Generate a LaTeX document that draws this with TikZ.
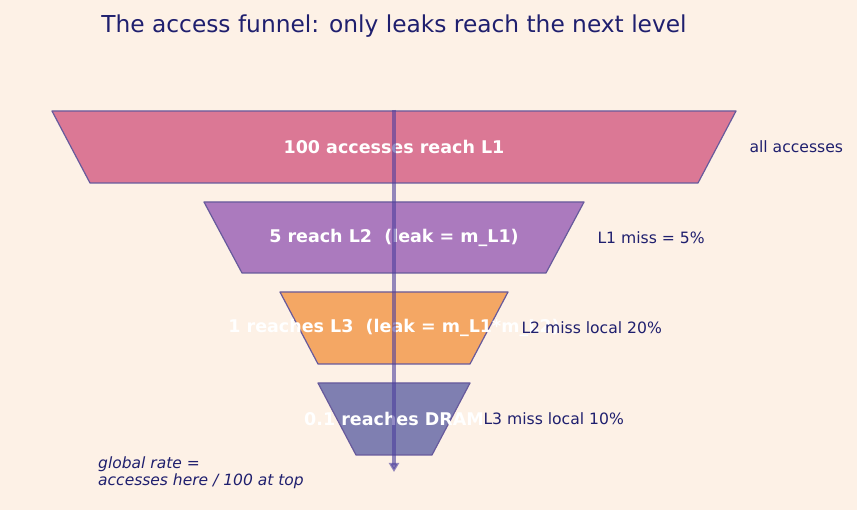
\documentclass[tikz,border=0pt]{standalone}
\usepackage{fontspec}
\setmainfont{DejaVu Sans}
\usetikzlibrary{arrows.meta}
\definecolor{bgcream}{HTML}{FDF1E6}
\definecolor{inkblue}{HTML}{1F1F6E}
\definecolor{edgepurp}{HTML}{675A9C}
\definecolor{lvlone}{HTML}{DB7895}
\definecolor{lvltwo}{HTML}{AB7ABE}
\definecolor{lvlthree}{HTML}{F4A764}
\definecolor{lvlfour}{HTML}{7F7FB1}
\definecolor{flowline}{HTML}{4C3F9E}
\tikzset{
  stage/.style={draw=edgepurp,line width=1.2pt,line join=round},
  stagetext/.style={text=white,font=\fontsize{17.5}{20}\selectfont\bfseries},
  misslabel/.style={anchor=west,text=inkblue,font=\fontsize{15.6}{18}\selectfont}
}
\begin{document}
\begin{tikzpicture}[x=1pt,y=-1pt]
  \fill[bgcream] (0,0) rectangle (857,510);
  \useasboundingbox (0,0) rectangle (857,510);
  \node[text=inkblue,font=\fontsize{23.3}{27}\selectfont] (title) at (394,26)
    {The access funnel: only leaks reach the next level};
  % the four levels, top to bottom
  \draw[stage,fill=lvlone] (52,111) -- (736,111) -- (698,183) -- (90,183) -- cycle;
  \draw[stage,fill=lvltwo] (204,202) -- (584,202) -- (546,273) -- (242,273) -- cycle;
  \draw[stage,fill=lvlthree] (280,292) -- (508,292) -- (470,364) -- (318,364) -- cycle;
  \draw[stage,fill=lvlfour] (318,383) -- (470,383) -- (432,455) -- (356,455) -- cycle;
  \node[stagetext] (s1) at (394,147) {100 accesses reach L1};
  \node[stagetext] (s2) at (394,238) {5 reach L2\ \ (leak = m\_L1)};
  \node[stagetext] (s3) at (394,328) {1 reaches L3\ \ (leak = m\_L1*m\_L2)};
  \node[stagetext] (s4) at (394,419) {0.1 reaches DRAM};
  \node[misslabel] (m1) at (746,147) {all accesses};
  \node[misslabel] (m2) at (594,238) {L1 miss = 5\%};
  \node[misslabel] (m3) at (518,328) {L2 miss local 20\%};
  \node[misslabel] (m4) at (480,419) {L3 miss local 10\%};
  \node[anchor=north west,align=left,text=inkblue,inner sep=0pt,
    font=\fontsize{15.5}{17}\selectfont\itshape] (note) at (98,457)
    {global rate =\\accesses here / 100 at top};
  % flow through the funnel
  \coordinate (top) at (394,110);
  \coordinate (bot) at (394,472);
  \draw[flowline,opacity=.6,line width=3.2pt,-{Triangle[length=9pt,width=10pt]}] (top) -- (bot);
\end{tikzpicture}
\end{document}
